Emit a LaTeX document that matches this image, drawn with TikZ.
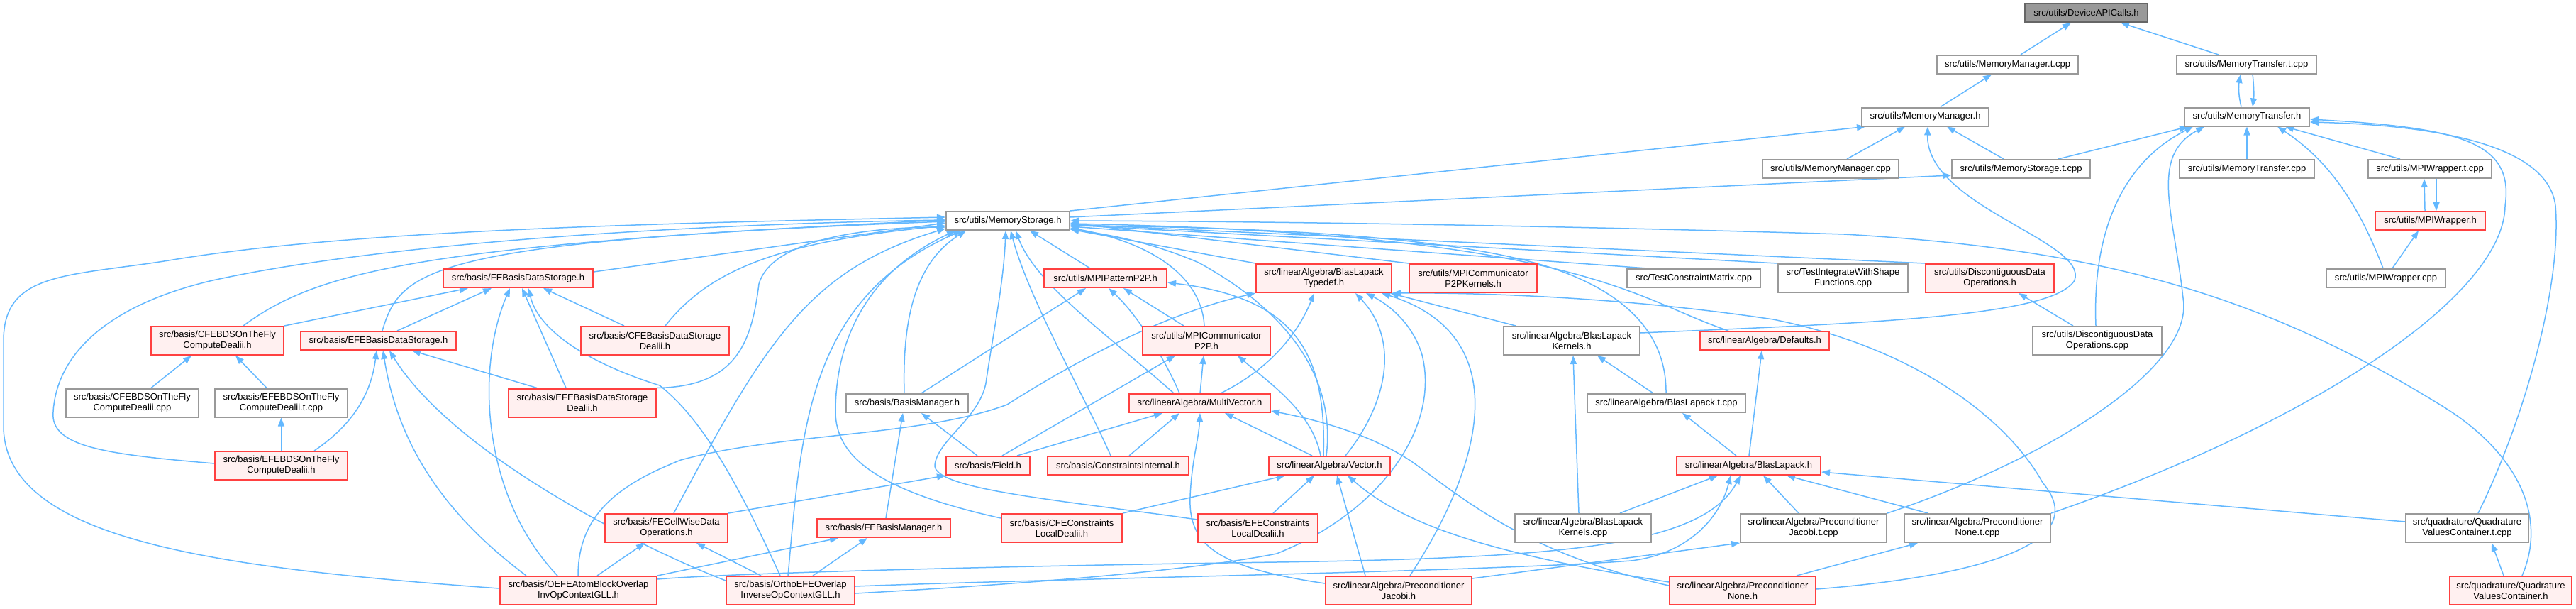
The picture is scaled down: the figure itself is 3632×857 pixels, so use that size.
\documentclass[tikz,border=0pt]{standalone}
\usepackage{fontspec}
\newfontfamily\doxf{Liberation Sans}
\usetikzlibrary{arrows.meta}
\definecolor{edgeblue}{HTML}{63B8FF}
\definecolor{redbd}{HTML}{FF4040}
\definecolor{redfill}{HTML}{FFF0F0}
\definecolor{graybd}{HTML}{999999}
\definecolor{darkbd}{HTML}{666666}
\definecolor{grayfill}{HTML}{999999}
\pgfdeclarelayer{bg}
\pgfsetlayers{bg,main}
\tikzset{
  box/.style={draw, line width=2pt, inner sep=0pt, align=center, minimum height=26pt,
    font=\doxf\fontsize{13pt}{15pt}\selectfont, text=black},
  wb/.style={box, draw=graybd, fill=white},
  rb/.style={box, draw=redbd, fill=redfill},
  gb/.style={box, draw=darkbd, fill=grayfill},
  tall/.style={minimum height=40pt},
  wd/.style={minimum width=#1pt},
  edg/.style={draw=edgeblue, line width=1.5pt, -{Triangle[length=12pt,width=9pt]}},
}
\begin{document}
\begin{tikzpicture}[x=1pt,y=1pt]
\useasboundingbox (0,0) rectangle (3632,-857);
\begin{pgfonlayer}{bg}
\fill[white] (0,0) rectangle (3632,-857);
\end{pgfonlayer}
% nodes
\node[gb,wd=173] (dev) at (2941.5,-18) {src/utils/DeviceAPICalls.h};
\node[wb,wd=199] (mmt) at (2830.5,-91) {src/utils/MemoryManager.t.cpp};
\node[wb,wd=197] (mtt) at (3167.5,-91) {src/utils/MemoryTransfer.t.cpp};
\node[wb,wd=179] (mmh) at (2714.5,-164.5) {src/utils/MemoryManager.h};
\node[wb,wd=176] (mth) at (3168,-164.5) {src/utils/MemoryTransfer.h};
\node[wb,wd=192] (mmc) at (2581,-238) {src/utils/MemoryManager.cpp};
\node[wb,wd=195] (mstc) at (2849.5,-238) {src/utils/MemoryStorage.t.cpp};
\node[wb,wd=190] (mtc) at (3168,-238) {src/utils/MemoryTransfer.cpp};
\node[wb,wd=174] (mpiwt) at (3426,-238) {src/utils/MPIWrapper.t.cpp};
\node[wb,wd=174] (msh) at (1421,-311) {src/utils/MemoryStorage.h};
\node[rb,wd=155] (mpiwh) at (3426.5,-311) {src/utils/MPIWrapper.h};
\node[wb,wd=168] (mpiwc) at (3364,-392) {src/utils/MPIWrapper.cpp};
\node[rb,tall,wd=181] (ddoh) at (2805.5,-392) {src/utils/DiscontiguousData\\Operations.h};
\node[wb,tall,wd=182] (ddoc) at (2957,-480) {src/utils/DiscontiguousData\\Operations.cpp};
\node[rb,wd=211] (febds) at (730.5,-392) {src/basis/FEBasisDataStorage.h};
\node[rb,wd=173] (p2p) at (1558.5,-392) {src/utils/MPIPatternP2P.h};
\node[rb,tall,wd=191] (blt) at (1866.5,-392) {src/linearAlgebra/BlasLapack\\Typedef.h};
\node[rb,tall,wd=180] (p2pk) at (2077,-392) {src/utils/MPICommunicator\\P2PKernels.h};
\node[wb,wd=188] (tcm) at (2388,-392) {src/TestConstraintMatrix.cpp};
\node[wb,tall,wd=183] (tiw) at (2598.5,-392) {src/TestIntegrateWithShape\\Functions.cpp};
\node[rb,tall,wd=187] (cfeotf) at (306.5,-480) {src/basis/CFEBDSOnTheFly\\ComputeDealii.h};
\node[rb,wd=219] (efebds) at (533.5,-480) {src/basis/EFEBasisDataStorage.h};
\node[rb,tall,wd=209] (cfebdsd) at (923.5,-480) {src/basis/CFEBasisDataStorage\\Dealii.h};
\node[rb,tall,wd=180] (comm) at (1701,-480) {src/utils/MPICommunicator\\P2P.h};
\node[wb,tall,wd=192] (blk) at (2216,-480) {src/linearAlgebra/BlasLapack\\Kernels.h};
\node[rb,wd=182] (def) at (2488,-480) {src/linearAlgebra/Defaults.h};
\node[wb,tall,wd=187] (cfeotfc) at (186.5,-567.5) {src/basis/CFEBDSOnTheFly\\ComputeDealii.cpp};
\node[wb,tall,wd=187] (efeotftc) at (396.5,-567.5) {src/basis/EFEBDSOnTheFly\\ComputeDealii.t.cpp};
\node[rb,tall,wd=208] (efebdsd) at (821,-567.5) {src/basis/EFEBasisDataStorage\\Dealii.h};
\node[wb,wd=172] (bm) at (1279,-568) {src/basis/BasisManager.h};
\node[rb,wd=199] (mv) at (1691.5,-568) {src/linearAlgebra/MultiVector.h};
\node[wb,wd=223] (bltc) at (2349.5,-568) {src/linearAlgebra/BlasLapack.t.cpp};
\node[rb,tall,wd=187] (efeotf) at (396.5,-656) {src/basis/EFEBDSOnTheFly\\ComputeDealii.h};
\node[rb,wd=118] (field) at (1393,-656) {src/basis/Field.h};
\node[rb,wd=199] (ci) at (1576.5,-656) {src/basis/ConstraintsInternal.h};
\node[rb,wd=171] (vec) at (1874.5,-656) {src/linearAlgebra/Vector.h};
\node[rb,wd=203] (bl) at (2465.5,-656) {src/linearAlgebra/BlasLapack.h};
\node[rb,tall,wd=173] (fecw) at (939.5,-744) {src/basis/FECellWiseData\\Operations.h};
\node[rb,wd=188] (febm) at (1246,-744) {src/basis/FEBasisManager.h};
\node[rb,tall,wd=170] (cfecl) at (1497,-744) {src/basis/CFEConstraints\\LocalDealii.h};
\node[rb,tall,wd=169] (efecl) at (1773.5,-744) {src/basis/EFEConstraints\\LocalDealii.h};
\node[wb,tall,wd=192] (blkc) at (2232,-744) {src/linearAlgebra/BlasLapack\\Kernels.cpp};
\node[wb,tall,wd=206] (pjtc) at (2557,-744) {src/linearAlgebra/Preconditioner\\Jacobi.t.cpp};
\node[wb,tall,wd=206] (pntc) at (2788,-744) {src/linearAlgebra/Preconditioner\\None.t.cpp};
\node[wb,tall,wd=173] (qvtc) at (3478.5,-744) {src/quadrature/Quadrature\\ValuesContainer.t.cpp};
\node[rb,tall,wd=221] (oefe) at (815.5,-832) {src/basis/OEFEAtomBlockOverlap\\InvOpContextGLL.h};
\node[rb,tall,wd=181] (ortho) at (1114.5,-832) {src/basis/OrthoEFEOverlap\\InverseOpContextGLL.h};
\node[rb,tall,wd=206] (pjh) at (1972,-832) {src/linearAlgebra/Preconditioner\\Jacobi.h};
\node[rb,tall,wd=206] (pnh) at (2457,-832) {src/linearAlgebra/Preconditioner\\None.h};
\node[rb,tall,wd=172] (qvh) at (3540,-832) {src/quadrature/Quadrature\\ValuesContainer.h};
% edges
\begin{pgfonlayer}{bg}
\draw[edg] (mmt.north -| 2849,0) -- (dev.south -| 2920,0);
\draw[edg] (mtt.north -| 3128,0) -- (dev.south -| 2990,0);
\draw[edg] (mmh.north -| 2736,0) -- (mmt.south -| 2808,0);
\draw[edg] (mth.north -| 3160,0) .. controls (3156,-135) and (3156,-122) .. (mtt.south -| 3159,0);
\draw[edg] (mtt.south -| 3176,0) .. controls (3178,-122) and (3178,-135) .. (mth.north -| 3176,0);
\draw[edg] (mmc.north -| 2604,0) -- (mmh.south -| 2686,0);
\draw[edg] (mstc.north -| 2825,0) -- (mmh.south -| 2745,0);
\draw[edg] (msh.north east) -- (mmh.south -| 2630,0);
\draw[edg] (blk.east |- 0,-469) .. controls (2650,-455) and (2895,-445) .. (2925,-395) .. controls (2945,-340) and (2715,-290) .. (mmh.south -| 2718,0);
\draw[edg] (msh.east |- 0,-306) -- (mstc.west |- 0,-247);
\draw[edg] (mstc.north -| 2902,0) -- (mth.south -| 3085,0);
\draw[edg] (ddoc.north -| 2955,0) .. controls (2950,-330) and (2990,-230) .. (mth.south -| 3092,0);
\draw[edg] (pjtc.north east) .. controls (2880,-650) and (3095,-520) .. (3078,-420) .. controls (3065,-300) and (3030,-220) .. (mth.south -| 3108,0);
\draw[edg] (mtc.north) -- (mth.south);
\draw[edg] (mpiwc.north -| 3360,0) .. controls (3330,-300) and (3290,-230) .. (mth.south -| 3211,0);
\draw[edg] (mpiwt.north -| 3384,0) -- (mth.south -| 3222,0);
\draw[edg] (pntc.north east) .. controls (3250,-600) and (3530,-420) .. (3532,-290) .. controls (3545,-200) and (3470,-180) .. (mth.east |- 0,-168);
\draw[edg] (qvtc.north -| 3494,0) .. controls (3560,-590) and (3612,-400) .. (3603,-290) .. controls (3592,-200) and (3420,-176) .. (mth.east |- 0,-172);
\draw[edg] (mpiwh.north -| 3419,0) -- (mpiwt.south -| 3418,0);
\draw[edg] (mpiwt.south -| 3435,0) -- (mpiwh.north -| 3435,0);
\draw[edg] (mpiwc.north -| 3373,0) -- (mpiwh.south -| 3410,0);
\draw[edg] (ddoc.north -| 2923,0) -- (ddoh.south -| 2846,0);
\draw[edg] (ddoh.north west) -- (msh.east |- 0,-316);
\draw[edg] (tcm.north -| 2322,0) -- (msh.east |- 0,-319);
\draw[edg] (tiw.north west) -- (msh.east |- 0,-317);
\draw[edg] (p2pk.north west) -- (msh.east |- 0,-314);
\draw[edg] (blt.north west) -- (msh.east |- 0,-323);
\draw[edg] (qvh.north -| 3556,0) .. controls (3595,-720) and (3540,-630) .. (3440,-570) .. controls (3180,-410) and (2950,-350) .. (2600,-330) .. controls (2200,-318) and (1800,-312) .. (msh.east |- 0,-311);
\draw[edg] (def.north -| 2437,0) .. controls (2300,-420) and (2230,-330) .. (msh.east |- 0,-315);
\draw[edg] (bltc.north -| 2349,0) .. controls (2350,-450) and (2260,-400) .. (2180,-375) .. controls (2050,-335) and (1800,-320) .. (msh.east |- 0,-318);
\draw[edg] (p2p.north -| 1537,0) -- (msh.south -| 1452,0);
\draw[edg] (comm.north -| 1698,0) .. controls (1695,-400) and (1640,-345) .. (msh.east |- 0,-321);
\draw[edg] (comm.north -| 1669,0) -- (p2p.south -| 1584,0);
\draw[edg] (mv.north -| 1655,0) .. controls (1560,-470) and (1460,-400) .. (msh.south -| 1432,0);
\draw[edg] (mv.north -| 1663,0) .. controls (1640,-500) and (1600,-440) .. (p2p.south -| 1563,0);
\draw[edg] (mv.north -| 1692,0) -- (comm.south -| 1697,0);
\draw[edg] (mv.north -| 1721,0) .. controls (1790,-520) and (1830,-470) .. (blt.south -| 1853,0);
\draw[edg] (vec.north -| 1850,0) -- (mv.south -| 1727,0);
\draw[edg] (vec.north -| 1870,0) .. controls (1885,-520) and (1800,-430) .. (1690,-370) .. controls (1620,-340) and (1560,-330) .. (msh.east |- 0,-323);
\draw[edg] (vec.north -| 1866,0) .. controls (1870,-500) and (1830,-420) .. (p2p.east |- 0,-398);
\draw[edg] (vec.north -| 1862,0) .. controls (1850,-580) and (1790,-540) .. (comm.south -| 1745,0);
\draw[edg] (vec.north -| 1897,0) .. controls (1955,-570) and (1975,-480) .. (blt.south -| 1911,0);
\draw[edg] (field.north -| 1378,0) -- (bm.south -| 1299,0);
\draw[edg] (field.north -| 1413,0) -- (comm.south -| 1657,0);
\draw[edg] (field.north -| 1434,0) -- (mv.south -| 1639,0);
\draw[edg] (ci.north -| 1566,0) .. controls (1530,-560) and (1450,-420) .. (msh.south -| 1425,0);
\draw[edg] (ci.north -| 1592,0) -- (mv.south -| 1663,0);
\draw[edg] (cfecl.west |- 0,-730) .. controls (1230,-690) and (1178,-640) .. (1178,-580) .. controls (1178,-470) and (1230,-380) .. (msh.south -| 1347,0);
\draw[edg] (cfecl.north east) -- (vec.south -| 1812,0);
\draw[edg] (efecl.west |- 0,-732) .. controls (1500,-705) and (1315,-690) .. (1318,-655) .. controls (1322,-620) and (1380,-590) .. (1390,-540) .. controls (1400,-470) and (1415,-400) .. (msh.south -| 1418,0);
\draw[edg] (efecl.north -| 1795,0) -- (vec.south -| 1853,0);
\draw[edg] (fecw.north -| 950,0) .. controls (1080,-480) and (1140,-380) .. (msh.west |- 0,-322);
\draw[edg] (fecw.north east) -- (field.south west);
\draw[edg] (febm.north -| 1249,0) -- (bm.south -| 1273,0);
\draw[edg] (bm.north -| 1275,0) .. controls (1272,-450) and (1290,-370) .. (msh.south -| 1362,0);
\draw[edg] (bm.north -| 1299,0) -- (p2p.south -| 1531,0);
\draw[edg] (ortho.north -| 1111,0) .. controls (1130,-600) and (1140,-420) .. (msh.south -| 1356,0);
\draw[edg] (ortho.west |- 0,-818) .. controls (900,-770) and (640,-640) .. (efebds.south -| 549,0);
\draw[edg] (ortho.north -| 1100,0) .. controls (1040,-680) and (990,-590) .. (930,-543) .. controls (840,-515) and (760,-470) .. (febds.south -| 745,0);
\draw[edg] (ortho.north -| 1073,0) -- (fecw.south -| 982,0);
\draw[edg] (ortho.north -| 1146,0) -- (febm.south -| 1223,0);
\draw[edg] (ortho.east |- 0,-826) .. controls (1500,-815) and (2100,-805) .. (2300,-790) .. controls (2380,-780) and (2425,-730) .. (bl.south -| 2440,0);
\draw[edg] (oefe.east |- 0,-816) .. controls (1050,-806) and (1500,-796) .. (1800,-792) .. controls (2200,-786) and (2400,-770) .. (bl.south -| 2454,0);
\draw[edg] (ortho.east |- 0,-836) .. controls (1500,-820) and (1700,-800) .. (1800,-780) .. controls (1950,-720) and (2030,-600) .. (2005,-500) .. controls (1990,-450) and (1950,-425) .. (blt.south -| 1926,0);
\draw[edg] (oefe.west |- 0,-829) .. controls (300,-800) and (5,-760) .. (5,-600) -- (5,-480) .. controls (5,-380) and (100,-390) .. (250,-365) .. controls (500,-325) and (900,-315) .. (msh.west |- 0,-306);
\draw[edg] (oefe.north -| 742,0) .. controls (620,-720) and (560,-620) .. (efebds.south -| 540,0);
\draw[edg] (oefe.north -| 786,0) .. controls (680,-700) and (670,-520) .. (febds.south -| 719,0);
\draw[edg] (oefe.north -| 815,0) .. controls (815,-720) and (880,-680) .. (960,-648) .. controls (1100,-610) and (1300,-615) .. (1420,-570) .. controls (1530,-500) and (1650,-440) .. (blt.south west);
\draw[edg] (oefe.north -| 842,0) -- (fecw.south -| 909,0);
\draw[edg] (oefe.north east) -- (febm.south -| 1182,0);
\draw[edg] (efeotf.north) -- (efeotftc.south);
\draw[edg] (efeotf.north -| 443,0) .. controls (510,-590) and (525,-540) .. (efebds.south -| 531,0);
\draw[edg] (efeotf.west |- 0,-653) .. controls (150,-640) and (70,-630) .. (75,-580) .. controls (80,-500) and (150,-430) .. (300,-395) .. controls (550,-340) and (1000,-315) .. (msh.west |- 0,-310);
\draw[edg] (cfeotfc.north -| 213,0) -- (cfeotf.south -| 270,0);
\draw[edg] (efeotftc.north -| 376,0) -- (cfeotf.south -| 332,0);
\draw[edg] (cfeotf.north -| 343,0) .. controls (450,-380) and (600,-345) .. (msh.west |- 0,-310);
\draw[edg] (cfeotf.north east) -- (febds.south -| 660,0);
\draw[edg] (efebds.north -| 539,0) .. controls (565,-380) and (600,-340) .. (msh.west |- 0,-312);
\draw[edg] (efebds.north -| 560,0) -- (febds.south -| 693,0);
\draw[edg] (febds.east |- 0,-383) -- (msh.west |- 0,-314);
\draw[edg] (cfebdsd.north -| 880,0) -- (febds.south -| 766,0);
\draw[edg] (cfebdsd.north -| 938,0) .. controls (1000,-380) and (1100,-340) .. (msh.west |- 0,-318);
\draw[edg] (efebdsd.north -| 798,0) -- (febds.south -| 736,0);
\draw[edg] (efebdsd.north -| 757,0) -- (efebds.south -| 581,0);
\draw[edg] (efebdsd.north east) .. controls (1040,-545) and (1060,-480) .. (1070,-400) .. controls (1090,-330) and (1250,-320) .. (msh.west |- 0,-320);
\draw[edg] (blk.north -| 2137,0) -- (blt.south -| 1960,0);
\draw[edg] (bltc.north -| 2331,0) -- (blk.south -| 2252,0);
\draw[edg] (blkc.north -| 2226,0) -- (blk.south -| 2218,0);
\draw[edg] (blkc.north -| 2284,0) -- (bl.south -| 2422,0);
\draw[edg] (bl.north -| 2448,0) -- (bltc.south -| 2372,0);
\draw[edg] (bl.north -| 2466,0) -- (def.south -| 2484,0);
\draw[edg] (pjtc.north -| 2536,0) -- (bl.south -| 2486,0);
\draw[edg] (pntc.north -| 2718,0) -- (bl.south -| 2519,0);
\draw[edg] (qvtc.west |- 0,-735) -- (bl.east |- 0,-665);
\draw[edg] (pjh.east |- 0,-815) -- (pjtc.south west);
\draw[edg] (pjh.north -| 1925,0) -- (vec.south -| 1885,0);
\draw[edg] (pjh.north -| 1988,0) .. controls (2100,-640) and (2130,-470) .. (blt.south -| 1948,0);
\draw[edg] (pjh.west |- 0,-822) .. controls (1720,-800) and (1675,-770) .. (1678,-700) .. controls (1680,-650) and (1690,-620) .. (mv.south -| 1692,0);
\draw[edg] (pnh.north -| 2533,0) -- (pntc.south -| 2704,0);
\draw[edg] (pnh.west |- 0,-820) .. controls (2100,-780) and (1980,-740) .. (vec.south -| 1900,0);
\draw[edg] (pnh.west |- 0,-825) .. controls (2150,-780) and (2060,-700) .. (1990,-650) .. controls (1930,-610) and (1850,-590) .. (mv.east |- 0,-579);
\draw[edg] (pnh.east |- 0,-830) .. controls (2750,-815) and (2960,-775) .. (2880,-680) .. controls (2830,-590) and (2700,-490) .. (2500,-450) .. controls (2300,-420) and (2100,-412) .. (blt.south east);
\draw[edg] (qvh.north -| 3530,0) -- (qvtc.south -| 3513,0);
\end{pgfonlayer}
\end{tikzpicture}
\end{document}
